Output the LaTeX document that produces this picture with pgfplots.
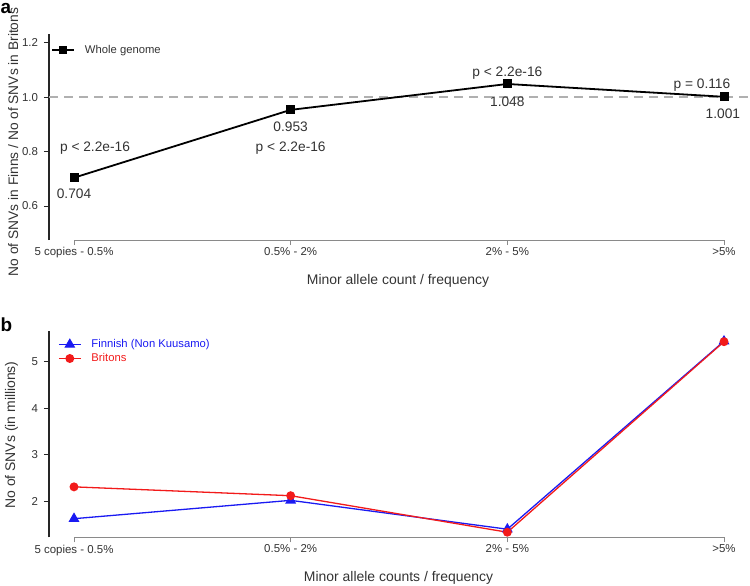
\documentclass[border=0pt]{standalone}
\usepackage{pgfplots}
\pgfplotsset{compat=1.18}
\usepackage{fontspec}
\setmainfont{Liberation Sans}
\definecolor{txt}{HTML}{333333}
\definecolor{axgray}{HTML}{8A8A8A}
\definecolor{dashgray}{HTML}{B0B0B0}
\definecolor{myblue}{HTML}{1A1AF2}
\definecolor{myred}{HTML}{F21A1A}
\pgfplotsset{
  common/.style={
    scale only axis,
    width=701bp,
    axis lines=left,
    axis line style={-, line width=1.2bp, draw=black!85},
    x axis line style={draw=none},
    xmin=-0.1154, xmax=3.12,
    xtick={0,1,2,3},
    xticklabels={5 copies - 0.5\%, 0.5\% - 2\%, 2\% - 5\%, >5\%},
    tick align=outside,
    major tick length=5bp,
    x tick style={axgray, line width=0.9bp},
    y tick style={black!85, line width=1bp},
    tick label style={font=\fontsize{11.5}{13}\selectfont, text=txt},
    yticklabel style={xshift=-2.5bp},
    xticklabel style={yshift=1bp},
    /pgf/number format/assume math mode=true,
    legend cell align=left,
  }
}
\begin{document}
\begin{tikzpicture}
\useasboundingbox (0,0) rectangle (750bp,586bp);
% ---------------- panel a
\begin{axis}[common,
  at={(49bp,345.9bp)}, anchor=south west,
  height=205.7bp,
  ymin=0.475, ymax=1.23,
  ytick={0.6,0.8,1.0,1.2}, yticklabels={0.6,0.8,1.0,1.2},
  legend style={at={(axis cs:-0.1062,1.172)}, anchor=west, draw=none, fill=none,
     inner sep=0pt, font=\fontsize{11.3}{13}\selectfont, text=txt,
     nodes={inner xsep=2bp, inner ysep=1.5bp, text height=8.5bp, text depth=2.5bp}},
  legend image code/.code={
     \draw[mark repeat=2,mark phase=2,#1, mark size=2.9bp] plot coordinates {(0bp,0bp) (10.8bp,0bp) (21.7bp,0bp)};
     \path (30bp,0bp);},
]
\draw[axgray, line width=0.9bp] (axis cs:0,0.475) -- (axis cs:3,0.475);
\addplot[dashgray, line width=1.4bp, dash pattern=on 9bp off 6bp, forget plot]
   coordinates {(-0.1154,1) (3.12,1)};
\addplot[black, line width=1.8bp, mark=square*, mark size=3.6bp]
   coordinates {(0,0.704) (1,0.953) (2,1.048) (3,1.001)};
\addlegendentry{Whole genome}
\begin{scope}[every node/.style={font=\fontsize{13.8}{15}\selectfont, text=txt, anchor=base, inner sep=0pt}]
\node at (axis cs:0.097,0.799) {p < 2.2e-16};
\node at (axis cs:0,0.626) {0.704};
\node at (axis cs:1,0.873) {0.953};
\node at (axis cs:1,0.799) {p < 2.2e-16};
\node at (axis cs:2,1.077) {p < 2.2e-16};
\node at (axis cs:2,0.967) {1.048};
\node at (axis cs:2.898,1.032) {p = 0.116};
\node at (axis cs:2.995,0.922) {1.001};
\end{scope}
\end{axis}
% ---------------- panel b
\begin{axis}[common,
  at={(49bp,48.7bp)}, anchor=south west,
  height=206.6bp,
  ymin=1.226, ymax=5.666,
  ytick={2,3,4,5},
  legend style={at={(axis cs:-0.074,5.524)}, anchor=north west, draw=none, fill=none,
     inner sep=0pt, font=\fontsize{11.3}{13}\selectfont,
     row sep=0pt,
     nodes={inner xsep=2bp, inner ysep=1.5bp, text height=8.5bp, text depth=2.5bp}},
  legend image code/.code={
     \draw[mark repeat=2,mark phase=2,#1] plot coordinates {(0bp,0bp) (11bp,0bp) (22bp,0bp)};
     \path (30bp,0bp);},
]
\draw[axgray, line width=0.9bp] (axis cs:0,1.226) -- (axis cs:3,1.226);
\addplot[myblue, line width=1.3bp, mark=triangle*, mark size=5bp]
   coordinates {(0,1.626) (1,2.02) (2,1.40) (3,5.44)};
\addlegendentry[text=myblue]{Finnish (Non Kuusamo)}
\addplot[myred, line width=1.3bp, mark=*, mark size=3.8bp]
   coordinates {(0,2.31) (1,2.12) (2,1.335) (3,5.43)};
\addlegendentry[text=myred]{Britons}
\end{axis}
% ---------------- labels
\node[font=\fontsize{19}{20}\selectfont\bfseries, anchor=base west, inner sep=0pt] at (0.5bp,572bp) {a};
\node[font=\fontsize{19}{20}\selectfont\bfseries, anchor=base west, inner sep=0pt] at (0.5bp,254bp) {b};
\node[font=\fontsize{14}{16}\selectfont, text=txt, anchor=base, inner sep=0pt] at (398bp,301bp) {Minor allele count / frequency};
\node[font=\fontsize{14}{16}\selectfont, text=txt, anchor=base, inner sep=0pt] at (398.5bp,4.5bp) {Minor allele counts / frequency};
\node[font=\fontsize{13.8}{16}\selectfont, text=txt, rotate=90, inner sep=0pt] at (13.3bp,444bp) {No of SNVs in Finns / No of SNVs in Britons};
\node[font=\fontsize{14}{16}\selectfont, text=txt, rotate=90, inner sep=0pt] at (11.5bp,151bp) {No of SNVs (in millions)};
\end{tikzpicture}
\end{document}
